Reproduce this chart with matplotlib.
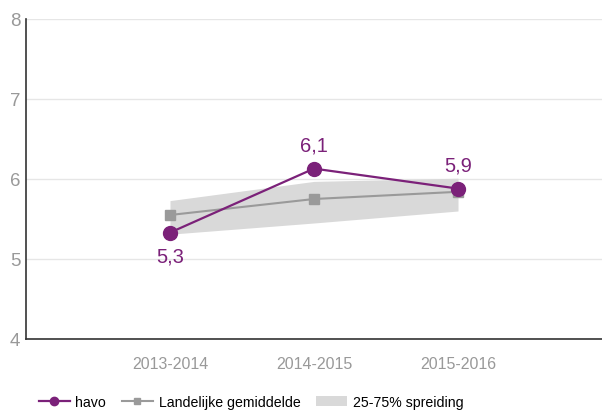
import matplotlib
matplotlib.use("Agg")
from matplotlib import pyplot as plt
from matplotlib.patches import Patch
from matplotlib.lines import Line2D

years = ["2013-2014", "2014-2015", "2015-2016"]
havo = [5.33, 6.13, 5.88]
havo_labels = ["5,3", "6,1", "5,9"]
landelijk = [5.55, 5.75, 5.84]
band_low = [5.31, 5.45, 5.60]
band_high = [5.73, 5.97, 6.01]

PURPLE = "#7b2179"
GREY = "#9a9a9a"
BAND = "#d9d9d9"

plt.rcParams["font.family"] = ["Liberation Sans", "DejaVu Sans"]

fig = plt.figure(figsize=(6.02, 4.14), dpi=100)
ax = fig.add_axes([26 / 602, 74 / 414, 1 - 26 / 602, 320 / 414])

x = list(range(len(years)))
ax.fill_between(x, band_low, band_high, color=BAND, lw=0, zorder=1)
ax.plot(x, landelijk, color=GREY, lw=1.5, marker="s", ms=7, zorder=2)
ax.plot(x, havo, color=PURPLE, lw=1.6, marker="o", ms=10, zorder=3)

for i, (v, lab) in enumerate(zip(havo, havo_labels)):
    below = i == 0
    ax.annotate(lab, (i, v), xytext=(0, -10 if below else 10),
                textcoords="offset points", ha="center",
                va="top" if below else "bottom", color=PURPLE, fontsize=14.5)

ax.set_xlim(-1, 3)
ax.set_ylim(4, 8)
ax.set_yticks([4, 5, 6, 7, 8])
ax.set_xticks(x)
ax.set_xticklabels(years)
ax.tick_params(length=0, colors="#999999")
ax.tick_params(axis="x", pad=12, labelsize=11.5)
ax.tick_params(axis="y", pad=4, labelsize=13.5)
ax.yaxis.grid(True, color="#e6e6e6", lw=1)
ax.set_axisbelow(True)
for s in ["top", "right"]:
    ax.spines[s].set_visible(False)
for s in ["left", "bottom"]:
    ax.spines[s].set_color("#333333")
    ax.spines[s].set_linewidth(1.2)

handles = [
    Line2D([], [], color=PURPLE, lw=1.6, marker="o", ms=6),
    Line2D([], [], color=GREY, lw=1.5, marker="s", ms=5),
    Patch(facecolor=BAND, edgecolor="none"),
]
fig.legend(handles, ["havo", "Landelijke gemiddelde", "25-75% spreiding"],
           loc="lower center", bbox_to_anchor=(0.417, -0.012), ncol=3,
           frameon=False, fontsize=10.2, handlelength=2.2, columnspacing=1.1,
           handletextpad=0.4, borderpad=0.15)

fig.savefig("out.png", dpi=100)
